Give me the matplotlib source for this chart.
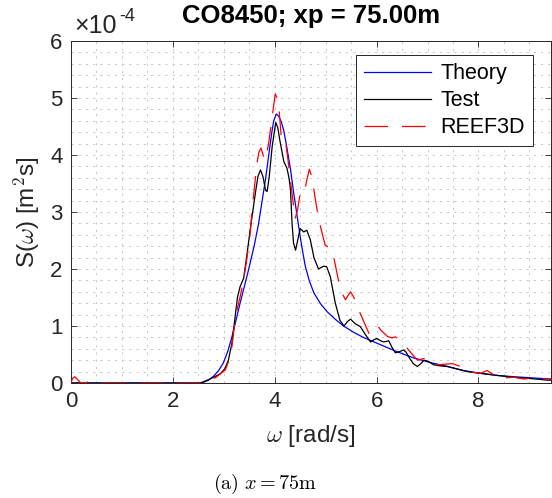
import matplotlib
matplotlib.use("Agg")
import matplotlib.pyplot as plt
from matplotlib.ticker import MultipleLocator

plt.rcParams['font.family'] = ['Liberation Sans', 'DejaVu Sans']
plt.rcParams['lines.scale_dashes'] = False

# ---- data (S in units of 1e-4 m^2 s) ----
theory_w = [0.0, 2.5, 2.6, 2.7, 2.8, 2.9, 2.99, 3.08, 3.16, 3.24, 3.32, 3.40, 3.49, 3.60, 3.68,
            3.75, 3.82, 3.88, 3.94, 3.98, 4.03, 4.08, 4.13, 4.18, 4.24, 4.31, 4.37, 4.42, 4.47,
            4.53, 4.60, 4.68, 4.77, 4.90, 5.03, 5.20, 5.35, 5.55, 5.74, 5.90, 6.08, 6.40, 6.73,
            7.05, 7.39, 7.70, 8.04, 8.40, 8.70, 9.05, 9.42]
theory_s = [0.0, 0.0, 0.01, 0.05, 0.12, 0.22, 0.35, 0.56, 0.81, 1.10, 1.40, 1.68, 2.00, 2.42, 2.78,
            3.18, 3.58, 3.98, 4.38, 4.60, 4.72, 4.68, 4.58, 4.42, 4.12, 3.75, 3.35, 3.05, 2.75,
            2.40, 2.05, 1.79, 1.58, 1.39, 1.25, 1.11, 1.00, 0.89, 0.80, 0.74, 0.67, 0.55, 0.44,
            0.36, 0.29, 0.22, 0.17, 0.13, 0.11, 0.09, 0.07]

test_w = [0.0, 2.54, 2.73, 2.93, 3.02, 3.09, 3.16, 3.23, 3.27, 3.32, 3.39, 3.45, 3.52, 3.62, 3.67,
          3.72, 3.77, 3.82, 3.85, 3.89, 3.95, 4.02, 4.06, 4.10, 4.18, 4.24, 4.28, 4.31, 4.34, 4.37,
          4.41, 4.45, 4.50, 4.57, 4.63, 4.70, 4.77, 4.86, 4.96, 5.02, 5.09, 5.19, 5.28, 5.36, 5.43,
          5.49, 5.58, 5.68, 5.78, 5.88, 5.95, 6.01, 6.08, 6.14, 6.24, 6.30, 6.37, 6.45, 6.53, 6.58,
          6.63, 6.72, 6.80, 6.87, 6.93, 6.98, 7.03, 7.12, 7.25, 7.39, 7.52, 7.65, 7.78, 8.04, 8.30,
          8.50, 8.70, 9.00, 9.35, 9.42]
test_s = [0.0, 0.0, 0.07, 0.16, 0.25, 0.40, 0.70, 1.22, 1.51, 1.69, 1.84, 2.22, 2.70, 3.33, 3.62,
          3.74, 3.62, 3.38, 3.36, 3.60, 4.15, 4.57, 4.48, 4.26, 3.88, 3.77, 3.60, 3.39, 2.80, 2.45,
          2.33, 2.50, 2.71, 2.65, 2.68, 2.51, 2.20, 2.00, 2.05, 2.04, 1.87, 1.40, 1.10, 1.00, 1.08,
          1.12, 1.04, 0.99, 0.85, 0.72, 0.76, 0.78, 0.74, 0.72, 0.74, 0.63, 0.53, 0.55, 0.58, 0.54,
          0.46, 0.34, 0.29, 0.34, 0.40, 0.39, 0.37, 0.32, 0.30, 0.29, 0.26, 0.23, 0.20, 0.17, 0.14,
          0.12, 0.10, 0.08, 0.05, 0.05]

reef_w = [0.0, 0.03, 0.07, 0.12, 0.18, 0.25, 0.35, 0.45, 0.60, 2.50, 2.70, 2.85, 2.93, 3.03, 3.09,
          3.16, 3.23, 3.32, 3.39, 3.45, 3.52, 3.55, 3.65, 3.69, 3.73, 3.78, 3.82, 3.88, 3.95, 4.01,
          4.05, 4.08, 4.13, 4.17, 4.21, 4.27, 4.35, 4.40, 4.45, 4.50, 4.57, 4.63, 4.68, 4.73, 4.80,
          4.86, 4.93, 4.99, 5.06, 5.13, 5.19, 5.29, 5.39, 5.45, 5.49, 5.55, 5.68, 5.85, 5.93, 6.01,
          6.08, 6.21, 6.30, 6.37, 6.44, 6.60, 6.80, 6.93, 7.06, 7.19, 7.35, 7.49, 7.65, 7.78, 8.04,
          8.12, 8.17, 8.27, 8.37, 8.50, 8.70, 8.89, 9.00, 9.16, 9.30, 9.42]
reef_s = [0.0, 0.08, 0.11, 0.07, 0.01, 0.0, 0.02, 0.01, 0.0, 0.0, 0.04, 0.10, 0.16, 0.23, 0.37,
          0.64, 1.17, 1.51, 1.81, 2.16, 2.63, 2.98, 3.85, 4.05, 4.12, 3.98, 3.91, 4.20, 4.67, 5.07,
          5.00, 4.85, 4.30, 4.32, 4.26, 3.85, 3.25, 2.88, 3.05, 3.32, 3.30, 3.56, 3.75, 3.62, 3.21,
          2.89, 2.63, 2.42, 2.38, 2.33, 2.07, 1.63, 1.46, 1.55, 1.60, 1.51, 1.22, 0.87, 0.95, 1.02,
          0.93, 0.82, 0.79, 0.81, 0.75, 0.61, 0.40, 0.43, 0.34, 0.32, 0.33, 0.34, 0.29, 0.20, 0.17,
          0.20, 0.22, 0.16, 0.08, 0.09, 0.10, 0.07, 0.08, 0.09, 0.07, 0.07]

xticks = [0, 2, 4, 6, 8]
yticks = [0, 1, 2, 3, 4, 5, 6]
labels = ['Theory', 'Test', 'REEF3D']

W, H = 552, 498
fig = plt.figure(figsize=(W / 100, H / 100), dpi=100)
ax = fig.add_axes([71 / W, 1 - 383 / H, 480 / W, 342 / H])

dark = '#262626'
ax.plot(theory_w, theory_s, color='#0000ff', lw=0.9, label=labels[0], zorder=3)
ax.plot(test_w, test_s, color='black', lw=0.9, label=labels[1], zorder=4)
ax.plot(reef_w, reef_s, color='#ff0000', lw=0.9, dashes=(17, 10), label=labels[2], zorder=5)

ax.set_xlim(0, 9.4248)
ax.set_ylim(0, 6)
ax.set_xticks(xticks)
ax.set_yticks(yticks)
ax.xaxis.set_minor_locator(MultipleLocator(0.5))
ax.yaxis.set_minor_locator(MultipleLocator(0.2))
ax.grid(which='both', color='#c8c8c8', linestyle=(0, (1.6, 3.6)), lw=0.7)
ax.set_axisbelow(True)
ax.tick_params(which='major', direction='in', length=4, width=0.6, color=dark,
               top=True, right=True, labelsize=16, labelcolor=dark, pad=6)
ax.tick_params(which='minor', length=0)
for s in ax.spines.values():
    s.set_color(dark)
    s.set_linewidth(0.7)

fig.text(311 / W, 1 - 16 / H, 'CO8450; xp = 75.00m', fontsize=18.5, fontweight='bold',
         ha='center', va='center')
ax.set_xlabel(r'$\omega$ [rad/s]', fontsize=17.5, color=dark, labelpad=8)
ax.set_ylabel(r'S($\omega$) [m$^2$s]', fontsize=17.5, color=dark, labelpad=6)
ax.xaxis.label.set_math_fontfamily('cm')
ax.yaxis.label.set_math_fontfamily('cm')

fig.text(74 / W, 1 - 33 / H, '×10', fontsize=18, color=dark, ha='left', va='baseline')
fig.text(119 / W, 1 - 21 / H, '-4', fontsize=13, color=dark, ha='left', va='baseline')

leg = ax.legend(loc='upper right', bbox_to_anchor=(533 / W, 1 - 55 / H),
                bbox_transform=fig.transFigure, borderaxespad=0, fontsize=15.5,
                handlelength=3.1, handletextpad=0.45, labelspacing=0.28,
                fancybox=False, framealpha=1, edgecolor=dark, borderpad=0.38)
leg.get_frame().set_linewidth(0.7)

fig.text(265 / W, 1 - 484 / H, r'$\mathrm{(a)}\ x = 75\mathrm{m}$', fontsize=14.5,
         ha='center', va='center', math_fontfamily='cm')

fig.savefig('out.png', dpi=100)
